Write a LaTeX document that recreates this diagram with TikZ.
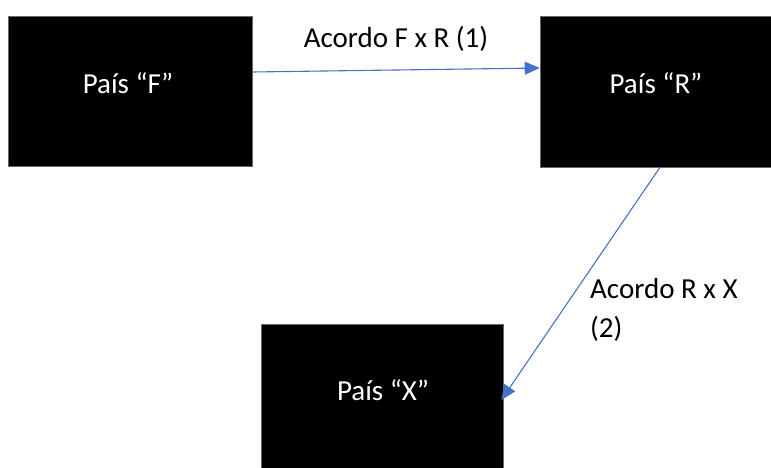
\documentclass[tikz,border=0pt]{standalone}
\usepackage{fontspec}
\setmainfont{Carlito}
\usetikzlibrary{arrows.meta}
\definecolor{arrowblue}{HTML}{4472C4}
\begin{document}
\begin{tikzpicture}[x=1pt,y=-1pt,
  box/.style={draw=black!60, line width=0.6pt, fill=black, inner sep=0pt},
  boxtext/.style={text=white, font=\fontsize{29}{35}\selectfont},
  lbl/.style={text=black, font=\fontsize{29}{39}\selectfont, inner sep=0pt},
  conn/.style={draw=arrowblue, line width=1.1pt, -{Triangle[length=15pt,width=13pt]}}]
\useasboundingbox (0,0) rectangle (771,468);
\clip (0,0) rectangle (771,468);
\node[box, minimum width=244pt, minimum height=150pt] (F) at (130,91) {};
\node[box, minimum width=232pt, minimum height=151pt] (R) at (656,91.5) {};
\node[box, minimum width=242pt, minimum height=146pt] (X) at (382,397) {};
\node[boxtext] (tF) at (128,83) {País “F”};
\node[boxtext] (tR) at (656,83) {País “R”};
\node[boxtext] (tX) at (383,390) {País “X”};
\draw[conn] ([yshift=19pt]F.east) -- ([yshift=23.5pt]R.west);
\draw[conn] ([xshift=4pt]R.south) -- ([yshift=-3pt,xshift=-2pt]X.east);
\node[lbl] (l1) at (396,39) {Acordo F x R (1)};
\node[lbl, anchor=north west, align=left] (l2) at (590,278) {Acordo R x X\\(2)};
\end{tikzpicture}
\end{document}
